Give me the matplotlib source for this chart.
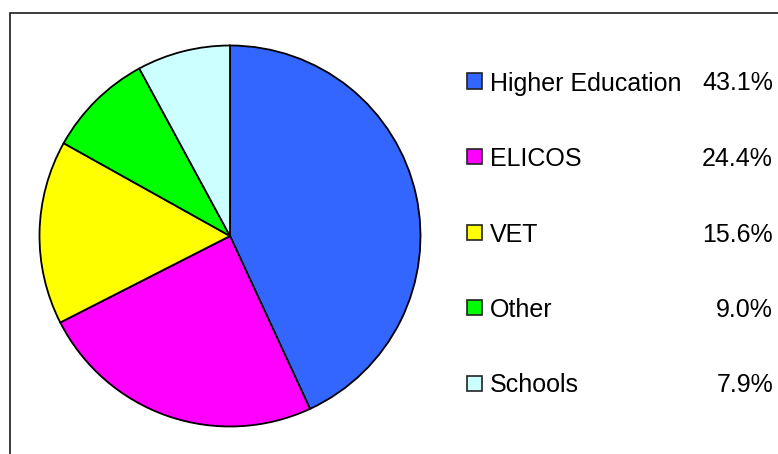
import matplotlib
matplotlib.use("Agg")
import matplotlib.pyplot as plt
from matplotlib.patches import Rectangle

categories = ["Higher Education", "ELICOS", "VET", "Other", "Schools"]
values = [43.1, 24.4, 15.6, 9.0, 7.9]
colors = ["#3366FF", "#FF00FF", "#FFFF00", "#00FF00", "#CCFFFF"]

W, H = 778, 454
fig = plt.figure(figsize=(W / 100, H / 100), dpi=100)
plt.rcParams['font.family'] = ['Liberation Sans', 'DejaVu Sans']

# frame
fig.patches.append(Rectangle((10 / W, -0.1), 1.2, (H - 13) / H + 0.1,
                             transform=fig.transFigure, fill=False,
                             edgecolor="#1a1a1a", linewidth=1.2))

cx, cy, r = 230, 236, 190.5
ax = fig.add_axes([(cx - r) / W, (H - cy - r) / H, 2 * r / W, 2 * r / H])
ax.pie(values, colors=colors, startangle=90, counterclock=False,
       wedgeprops=dict(edgecolor="black", linewidth=1.3))
ax.set_xlim(-1, 1)
ax.set_ylim(-1, 1)
ax.set_aspect("auto")
ax.axis("off")

y0, step = 81, 75.5
for i, (cat, v, c) in enumerate(zip(categories, values, colors)):
    yc = y0 + i * step
    fig.patches.append(Rectangle((467 / W, (H - yc - 7.5) / H), 15 / W, 15 / H,
                                 transform=fig.transFigure, facecolor=c,
                                 edgecolor="#222222", linewidth=1.2))
    fig.text(490 / W, (H - yc) / H, cat, fontsize=18, va="center_baseline", ha="left")
    fig.text(773 / W, (H - yc) / H, f"{v:.1f}%", fontsize=18, va="center_baseline", ha="right")

fig.savefig("out.png", dpi=100)
